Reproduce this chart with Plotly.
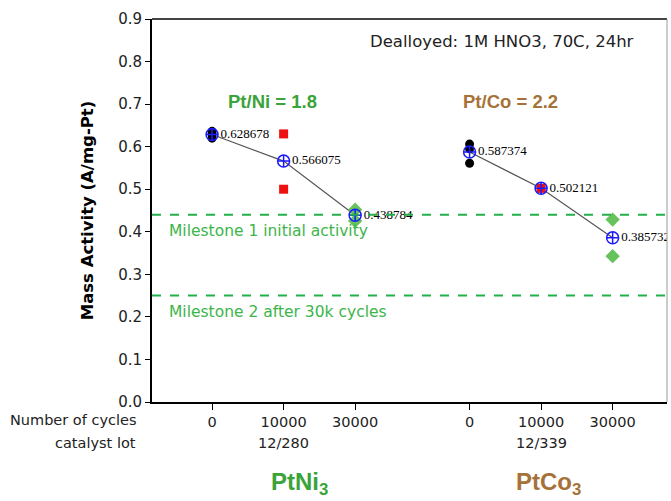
import plotly.graph_objects as go

# ---------------- data ----------------
cycle_labels = ["0", "10000", "30000", "0", "10000", "30000"]
x_pos = [0, 1, 2, 3.6, 4.6, 5.6]          # category slots (PtNi3 | PtCo3)
lot_labels = ["12/280", "12/339"]
lot_pos = [1, 4.6]

# individual measurements
black_x = [0, 0, 0, 3.6, 3.6, 3.6]
black_y = [0.636, 0.630, 0.620, 0.606, 0.595, 0.561]
red_x = [1, 1, 4.6]
red_y = [0.630, 0.500, 0.502]
green_x = [2, 2, 5.6, 5.6]
green_y = [0.452, 0.4256, 0.4287, 0.3427]

# means
ni_mean_x = [0, 1, 2]
ni_mean_y = [0.628678, 0.566075, 0.438784]
co_mean_x = [3.6, 4.6, 5.6]
co_mean_y = [0.587374, 0.502121, 0.385732]

milestones = [0.44, 0.25]
milestone_text = ["Milestone 1 initial activity", "Milestone 2 after 30k cycles"]

GREEN_LINE = "#22b04b"
GREEN_TXT = "#3cb54a"
GREEN_PT = "#3aa33a"
BROWN = "#a67239"
SANS = "DejaVu Sans"
TXT = "#222222"

fig = go.Figure()

# mean connecting lines
for mx, my in [(ni_mean_x, ni_mean_y), (co_mean_x, co_mean_y)]:
    fig.add_trace(go.Scatter(x=mx, y=my, mode="lines",
                             line=dict(color="#555555", width=1.2),
                             hoverinfo="skip", showlegend=False))

fig.add_trace(go.Scatter(x=black_x, y=black_y, mode="markers",
                         marker=dict(symbol="circle", size=9, color="black"),
                         showlegend=False))
fig.add_trace(go.Scatter(x=red_x, y=red_y, mode="markers",
                         marker=dict(symbol="square", size=9, color="#ee1111"),
                         showlegend=False))
fig.add_trace(go.Scatter(x=green_x, y=green_y, mode="markers",
                         marker=dict(symbol="diamond", size=11, color="#66c25a"),
                         showlegend=False))

for mx, my in [(ni_mean_x, ni_mean_y), (co_mean_x, co_mean_y)]:
    fig.add_trace(go.Scatter(
        x=mx, y=my, mode="markers+text",
        marker=dict(symbol="circle-cross-open", size=12, color="#1a1aff",
                    line=dict(width=1.5, color="#1a1aff")),
        text=[f"{v:g}" for v in my], textposition="middle right",
        textfont=dict(family="Liberation Serif", size=13, color="black"),
        showlegend=False))

# milestone lines
for m, t in zip(milestones, milestone_text):
    fig.add_shape(type="line", xref="paper", x0=0, x1=1, yref="y", y0=m, y1=m,
                  line=dict(color=GREEN_LINE, width=2, dash="dash"))
    fig.add_annotation(xref="paper", x=0.029, yref="y", y=m, yshift=-16,
                       text=t, showarrow=False, xanchor="left", yanchor="middle",
                       font=dict(family=SANS, size=15.5, color=GREEN_TXT))

# frame (top + right)
fig.add_shape(type="line", xref="paper", yref="paper", x0=0, x1=1, y0=1, y1=1,
              line=dict(color="#444444", width=2))
fig.add_shape(type="line", xref="paper", yref="paper", x0=1, x1=1, y0=0, y1=1,
              line=dict(color="#999999", width=1))

# texts
fig.add_annotation(xref="paper", x=0.68, yref="paper", y=0.94,
                   xanchor="center", yanchor="middle",
                   text="Dealloyed: 1M HNO3, 70C, 24hr", showarrow=False,
                   font=dict(family=SANS, size=16.5, color=TXT))
fig.add_annotation(x=0.85, y=0.705, text="<b>Pt/Ni = 1.8</b>", showarrow=False,
                   xanchor="center", yanchor="middle",
                   font=dict(family="Liberation Sans", size=18.5, color=GREEN_PT))
fig.add_annotation(x=4.17, y=0.705, text="<b>Pt/Co = 2.2</b>", showarrow=False,
                   xanchor="center", yanchor="middle",
                   font=dict(family="Liberation Sans", size=18.5, color=BROWN))

fig.add_annotation(xref="paper", x=-0.027, yref="paper", y=-0.047,
                   text="Number of cycles", showarrow=False,
                   xanchor="right", yanchor="middle",
                   font=dict(family=SANS, size=14.5, color=TXT))
fig.add_annotation(xref="paper", x=-0.027, yref="paper", y=-0.107,
                   text="catalyst lot", showarrow=False,
                   xanchor="right", yanchor="middle",
                   font=dict(family=SANS, size=14.5, color=TXT))
for lp, lt in zip(lot_pos, lot_labels):
    fig.add_annotation(x=lp, yref="paper", y=-0.107, text=lt, showarrow=False,
                       xanchor="center", yanchor="middle",
                       font=dict(family=SANS, size=14.5, color=TXT))

fig.add_annotation(x=1.22, yref="paper", y=-0.213, text="<b>PtNi<sub>3</sub></b>",
                   showarrow=False, xanchor="center", yanchor="middle",
                   font=dict(family="Liberation Sans", size=24, color=GREEN_PT))
fig.add_annotation(x=4.7, yref="paper", y=-0.213, text="<b>PtCo<sub>3</sub></b>",
                   showarrow=False, xanchor="center", yanchor="middle",
                   font=dict(family="Liberation Sans", size=24, color=BROWN))

fig.update_layout(
    width=671, height=501,
    margin=dict(l=152, r=4, t=19, b=99),
    paper_bgcolor="white", plot_bgcolor="white",
    xaxis=dict(range=[-0.84, 6.36], tickvals=x_pos, ticktext=cycle_labels,
               showgrid=False, zeroline=False, showline=True,
               linecolor="black", linewidth=2, ticks="outside", ticklen=6,
               tickcolor="black",
               tickfont=dict(family=SANS, size=14.5, color=TXT)),
    yaxis=dict(range=[0, 0.9], dtick=0.1, tickformat=".1f",
               showgrid=False, zeroline=False, showline=True,
               linecolor="black", linewidth=2, ticks="outside", ticklen=5,
               tickcolor="black",
               tickfont=dict(family=SANS, size=15, color=TXT),
               title=dict(text="<b>Mass Activity (A/mg-Pt)</b>", standoff=20,
                          font=dict(family=SANS, size=16.5, color="black"))),
    showlegend=False,
)

fig.write_html("out.html")
